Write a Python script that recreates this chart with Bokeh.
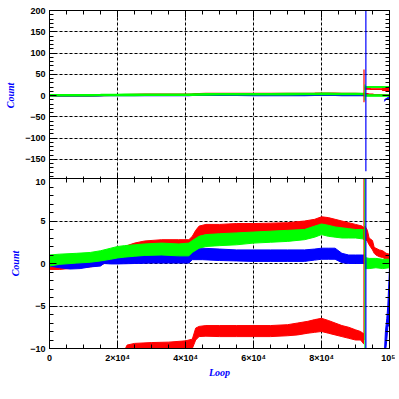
from bokeh.plotting import figure
from bokeh.layouts import column
from bokeh.models import FixedTicker, LinearAxis, Range1d, Grid
from bokeh.embed import file_html
from bokeh.resources import INLINE

# ---------------- data ----------------
loop_ticks = [0, 20000, 40000, 60000, 80000, 100000]
loop_tick_labels = ["0", "2×10⁴", "4×10⁴", "6×10⁴", "8×10⁴", "10⁵"]
top_ticks = [-150, -100, -50, 0, 50, 100, 150, 200]
bottom_ticks = [-10, -5, 0, 5, 10]

# red main band
red_x = [0, 3000, 8000, 12000, 15000, 18000, 20000, 22000, 25000, 28000, 33000, 38000, 41000, 42000,
         43000, 44000, 46000, 50000, 55000, 60000, 65000, 70000, 75000, 78000, 80000, 82000, 84000,
         86000, 88000, 90000, 92000, 92500, 92800, 93500, 94000, 95000, 95500, 96000, 97000, 98000,
         99000, 100000]
red_hi = [0.3, 0.2, 0.1, 0.2, 0.5, 1.0, 1.6, 2.0, 2.4, 2.65, 2.8, 2.8, 2.8, 3.2,
          3.9, 4.4, 4.6, 4.6, 4.7, 4.7, 4.75, 4.8, 5.0, 5.2, 5.5, 5.4, 5.2,
          5.0, 4.8, 4.6, 4.4, 4.2, 4.4, 3.9, 3.0, 2.7, 1.9, 1.8, 1.6, 1.5,
          1.2, 1.1]
red_lo = [-0.7, -0.7, -0.5, -0.4, -0.2, 0.3, 0.7, 1.0, 1.4, 1.7, 1.9, 2.0, 2.0, 2.3,
          2.9, 3.2, 3.4, 3.4, 3.4, 3.4, 3.5, 3.6, 3.8, 4.0, 4.1, 4.0, 3.9,
          3.7, 3.5, 3.4, 3.2, 3.1, 2.9, 2.6, 2.2, 1.6, 1.2, 1.0, 0.8, 0.7,
          0.5, 0.4]

# red lower band (below zero)
redlow_x = [22000, 22800, 25000, 30000, 35000, 40000, 42000, 43000, 44000, 46000, 50000, 55000, 60000,
            65000, 70000, 73000, 76000, 78000, 80000, 82000, 84000, 86000, 88000, 90000, 91500, 92500]
redlow_hi = [-10.3, -9.6, -9.4, -9.3, -9.25, -9.1, -8.9, -7.6, -7.4, -7.3, -7.3, -7.3, -7.3,
             -7.3, -7.2, -7.0, -6.8, -6.6, -6.45, -6.7, -7.0, -7.3, -7.5, -7.8, -8.0, -8.3]
redlow_lo = [-10.6, -10.5, -10.3, -10.2, -10.2, -10.1, -10.0, -9.0, -8.6, -8.55, -8.6, -8.6, -8.6,
             -8.6, -8.5, -8.4, -8.2, -8.1, -8.0, -8.2, -8.4, -8.6, -8.8, -9.0, -9.0, -9.5]

# red level after the jump
redpost_x = [92600, 94000, 94500, 97800, 98000, 100000]
redpost_hi = [19, 19, 15.5, 15.5, 17.5, 17.5]
redpost_lo = [15, 15, 14.5, 14.5, 12, 12]

# green main band
green_x = [0, 3000, 8000, 12000, 15000, 18000, 20000, 22000, 25000, 28000, 33000, 38000, 41000, 42000,
           44000, 46000, 50000, 55000, 60000, 65000, 70000, 75000, 78000, 80000, 82000, 84000, 86000,
           88000, 90000, 92000, 92700, 92850, 94000, 96000, 98000, 100000]
green_hi = [1.0, 1.1, 1.2, 1.3, 1.5, 1.8, 2.0, 2.1, 2.2, 2.3, 2.4, 2.3, 2.4, 2.7,
            3.2, 3.4, 3.5, 3.6, 3.7, 3.8, 3.9, 4.0, 4.4, 4.65, 4.5, 4.3, 4.2,
            4.1, 4.0, 4.0, 4.0, 0.7, 0.6, 0.6, 0.5, 0.5]
green_lo = [-0.3, -0.1, 0.05, 0.15, 0.3, 0.5, 0.65, 0.75, 0.85, 0.95, 1.0, 0.9, 0.9, 1.3,
            1.8, 2.0, 2.1, 2.2, 2.4, 2.5, 2.6, 2.8, 3.1, 3.4, 3.2, 3.1, 3.0,
            3.0, 3.0, 2.9, 2.8, -0.6, -0.6, -0.5, -0.6, -0.5]

# green level after the jump
greenpost_x = [92800, 100000]
greenpost_hi = [21, 21]
greenpost_lo = [19, 19]

# blue main band
blue_x = [0, 3000, 6000, 9000, 12000, 15000, 16000, 18000, 20000, 25000, 30000, 35000, 41000, 42000,
          45000, 50000, 55000, 60000, 65000, 70000, 75000, 78000, 80000, 82000, 84000, 86000, 88000,
          90000, 92000, 93000]
blue_hi = [0.5, 0.2, 0.1, 0.15, 0.2, 0.45, 0.6, 0.75, 0.85, 0.9, 1.0, 1.0, 1.0, 1.8,
           1.8, 1.7, 1.6, 1.6, 1.6, 1.6, 1.6, 1.7, 1.8, 1.8, 1.8, 1.2, 1.0,
           1.0, 1.0, 1.0]
blue_lo = [-0.3, -0.5, -0.65, -0.6, -0.4, -0.3, 0.0, -0.05, -0.05, 0.0, 0.05, 0.05, 0.05, 0.45,
           0.45, 0.35, 0.3, 0.25, 0.25, 0.25, 0.25, 0.4, 0.5, 0.5, 0.5, 0.1, 0.0,
           0.0, 0.0, 0.0]

# blue recovery at the end
bluetail_x = [98500, 98800, 99200, 99500, 100000]
bluetail_hi = [-10.5, -8, -6.5, -5, -0.5]
bluetail_lo = [-14, -10.5, -9, -7.5, -7]

# vertical excursions at the jump
spike_x = [92500, 92780, 93050]
spike_lo = [-16, -12, -178]
spike_lo_zoom = [-9.0, -15, -300]
spike_hi = [61, 26, 260]
spike_colors = ["#ff0000", "#00ff00", "#0000ff"]

RED, GREEN, BLUE = "#ff0000", "#00ff00", "#0000ff"
LABEL_FONT = "Liberation Sans"
TITLE_FONT = "Liberation Serif"


def style_axis(ax, labels):
    ax.axis_line_color = "black"
    ax.axis_line_width = 1
    ax.major_tick_in = 7
    ax.major_tick_out = 0
    ax.minor_tick_in = 4
    ax.minor_tick_out = 0
    ax.major_tick_line_color = "black"
    ax.minor_tick_line_color = "black"
    if labels:
        ax.major_label_text_font = LABEL_FONT
        ax.major_label_text_font_size = "9px"
        ax.major_label_text_font_style = "bold"
        ax.major_label_text_color = "black"
        ax.major_label_standoff = 4
    else:
        ax.major_label_text_font_size = "0px"
        ax.major_label_standoff = 0
        ax.major_label_text_alpha = 0


def style_title(ax, text):
    ax.axis_label = text
    ax.axis_label_text_font = TITLE_FONT
    ax.axis_label_text_font_style = "bold italic"
    ax.axis_label_text_font_size = "10px"
    ax.axis_label_text_color = "blue"
    ax.axis_label_standoff = 6


def make_panel(ymin, yticks, yminor, ygrid, bottom_labels, mb_top, mb_bottom):
    p = figure(frame_width=340, frame_height=170,
               x_range=Range1d(0, 100000), y_range=Range1d(ymin, -ymin),
               output_backend="svg", toolbar_location=None,
               x_axis_location=None, y_axis_location=None,
               min_border_left=49, min_border_right=6,
               min_border_top=mb_top, min_border_bottom=mb_bottom)
    p.outline_line_color = "black"
    p.background_fill_color = "white"
    p.border_fill_color = "white"
    xt = FixedTicker(ticks=loop_ticks, minor_ticks=list(range(0, 100001, 5000)))
    yt = FixedTicker(ticks=yticks, minor_ticks=yminor)

    left = LinearAxis(ticker=yt)
    style_axis(left, True)
    style_title(left, "Count")
    p.add_layout(left, "left")

    right = LinearAxis(ticker=yt)
    style_axis(right, False)
    p.add_layout(right, "right")

    above = LinearAxis(ticker=xt)
    style_axis(above, False)
    p.add_layout(above, "above")

    below = LinearAxis(ticker=xt)
    if bottom_labels:
        style_axis(below, True)
        below.major_label_overrides = dict(zip(loop_ticks, loop_tick_labels))
        style_title(below, "Loop")
        below.axis_label_standoff = 1
    else:
        style_axis(below, False)
    p.add_layout(below, "below")

    xg = Grid(dimension=0, ticker=FixedTicker(ticks=[20000, 40000, 60000, 80000]),
              grid_line_color="black", grid_line_dash="3 2", grid_line_width=1)
    yg = Grid(dimension=1, ticker=FixedTicker(ticks=ygrid),
              grid_line_color="black", grid_line_dash="3 2", grid_line_width=1)
    p.add_layout(xg, "center")
    p.add_layout(yg, "center")
    return p


top = make_panel(-200, top_ticks, list(range(-200, 201, 10)), [-150, -100, -50, 0, 50, 100, 150],
                 False, 10, 0)
bot = make_panel(-10, bottom_ticks, list(range(-10, 11, 1)), [-5, 0, 5],
                 True, 0, 30)
bot.border_fill_alpha = 0
bot.margin = (-2, 0, 0, 0)


def band(p, x, lo, hi, color, edge_width=0):
    p.varea(x=x, y1=lo, y2=hi, fill_color=color)
    if edge_width:
        p.line(x=x, y=hi, line_color=color, line_width=edge_width)
        p.line(x=x, y=lo, line_color=color, line_width=edge_width)


# top panel
band(top, red_x, red_lo, red_hi, RED, 1.5)
band(top, redpost_x, redpost_lo, redpost_hi, RED, 1.2)
band(top, blue_x, blue_lo, blue_hi, BLUE, 1.5)
band(top, bluetail_x, bluetail_lo, bluetail_hi, BLUE, 1)
band(top, green_x, green_lo, green_hi, GREEN, 2)
band(top, greenpost_x, greenpost_lo, greenpost_hi, GREEN, 1)
top.segment(x0=spike_x, y0=spike_lo, x1=spike_x, y1=spike_hi, line_color=spike_colors, line_width=1.2)

# bottom panel
band(bot, red_x, red_lo, red_hi, RED, 1)
band(bot, redlow_x, redlow_lo, redlow_hi, RED, 1)
band(bot, redpost_x, redpost_lo, redpost_hi, RED, 1)
band(bot, blue_x, blue_lo, blue_hi, BLUE, 1)
band(bot, bluetail_x, bluetail_lo, bluetail_hi, BLUE, 1)
band(bot, green_x, green_lo, green_hi, GREEN, 1)
band(bot, greenpost_x, greenpost_lo, greenpost_hi, GREEN, 1)
bot.segment(x0=spike_x, y0=spike_lo_zoom, x1=spike_x, y1=spike_hi, line_color=spike_colors, line_width=1.2)

layout = column(top, bot, spacing=0)
open("out.html", "w").write(file_html(layout, INLINE))
